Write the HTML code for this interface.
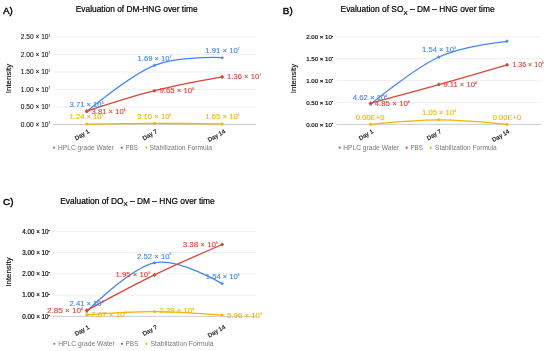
<!DOCTYPE html>
<html lang="en">
<head>
<meta charset="utf-8">
<title>Evaluation of DM-HNG over time</title>
<style>
html,body{margin:0;padding:0;background:#fff;}
body{width:550px;height:351px;overflow:hidden;}
svg{display:block;font-family:'Liberation Sans', Arial, sans-serif;}
</style>
</head>
<body>
<svg width="550" height="351" viewBox="0 0 550 351">
<rect width="550" height="351" fill="#fff"/>
<g id="chart-a">
<text x="3" y="13.6" font-size="9.9" fill="#000" stroke="#000" stroke-width="0.4">A)</text>
<text x="136.7" y="12.2" font-size="8.4" fill="#000" stroke="#000" stroke-width="0.2" text-anchor="middle">Evaluation of DM-HNG over time</text>
<line x1="53" x2="256" y1="124.50" y2="124.50" stroke="#b8b8b8" stroke-width="0.7"/>
<text x="50" y="126.88" font-size="6.6" fill="#111" stroke="#111" stroke-width="0.08" text-anchor="end">0.00 × 10<tspan dy="-2.77" font-size="2.64">7</tspan></text>
<line x1="53" x2="256" y1="107.00" y2="107.00" stroke="#e4e4e4" stroke-width="0.6"/>
<text x="50" y="109.38" font-size="6.6" fill="#111" stroke="#111" stroke-width="0.08" text-anchor="end">0.50 × 10<tspan dy="-2.77" font-size="2.64">7</tspan></text>
<line x1="53" x2="256" y1="89.50" y2="89.50" stroke="#e4e4e4" stroke-width="0.6"/>
<text x="50" y="91.88" font-size="6.6" fill="#111" stroke="#111" stroke-width="0.08" text-anchor="end">1.00 × 10<tspan dy="-2.77" font-size="2.64">7</tspan></text>
<line x1="53" x2="256" y1="72.00" y2="72.00" stroke="#e4e4e4" stroke-width="0.6"/>
<text x="50" y="74.38" font-size="6.6" fill="#111" stroke="#111" stroke-width="0.08" text-anchor="end">1.50 × 10<tspan dy="-2.77" font-size="2.64">7</tspan></text>
<line x1="53" x2="256" y1="54.50" y2="54.50" stroke="#e4e4e4" stroke-width="0.6"/>
<text x="50" y="56.88" font-size="6.6" fill="#111" stroke="#111" stroke-width="0.08" text-anchor="end">2.00 × 10<tspan dy="-2.77" font-size="2.64">7</tspan></text>
<line x1="53" x2="256" y1="37.00" y2="37.00" stroke="#e4e4e4" stroke-width="0.6"/>
<text x="50" y="39.38" font-size="6.6" fill="#111" stroke="#111" stroke-width="0.08" text-anchor="end">2.50 × 10<tspan dy="-2.77" font-size="2.64">7</tspan></text>
<text transform="translate(10.5,78.5) rotate(-90)" font-size="7.9" fill="#000" stroke="#000" stroke-width="0.1" text-anchor="middle">Intensity</text>
<path d="M86.83,111.52 C86.83,111.52 130.33,74.97 154.50,65.35 C178.67,55.73 222.17,57.65 222.17,57.65" fill="none" stroke="#4285f4" stroke-width="1.3" stroke-linecap="round"/>
<polygon points="86.83,109.31 87.38,110.77 88.93,110.84 87.71,111.80 88.13,113.29 86.83,112.44 85.54,113.29 85.95,111.80 84.74,110.84 86.29,110.77" fill="#4285f4"/>
<polygon points="154.50,63.15 155.04,64.60 156.59,64.67 155.38,65.64 155.79,67.13 154.50,66.27 153.21,67.13 153.62,65.64 152.41,64.67 153.96,64.60" fill="#4285f4"/>
<polygon points="222.17,55.45 222.71,56.90 224.26,56.97 223.05,57.94 223.46,59.43 222.17,58.57 220.87,59.43 221.29,57.94 220.07,56.97 221.62,56.90" fill="#4285f4"/>
<path d="M86.83,111.16 C86.83,111.16 130.33,96.84 154.50,90.72 C178.67,84.61 222.17,76.90 222.17,76.90" fill="none" stroke="#db4437" stroke-width="1.3" stroke-linecap="round"/>
<polygon points="86.83,109.11 88.88,111.16 86.83,113.21 84.78,111.16" fill="#db4437"/>
<polygon points="154.50,88.67 156.55,90.72 154.50,92.77 152.45,90.72" fill="#db4437"/>
<polygon points="222.17,74.85 224.22,76.90 222.17,78.95 220.12,76.90" fill="#db4437"/>
<path d="M86.83,124.07 C86.83,124.07 130.33,123.44 154.50,123.42 C178.67,123.39 222.17,123.92 222.17,123.92" fill="none" stroke="#f4b400" stroke-width="1.3" stroke-linecap="round"/>
<rect x="85.53" y="122.77" width="2.60" height="2.60" fill="#f4b400"/>
<rect x="153.20" y="122.12" width="2.60" height="2.60" fill="#f4b400"/>
<rect x="220.87" y="122.62" width="2.60" height="2.60" fill="#f4b400"/>
<text transform="translate(89.8,132.6) rotate(-30)" font-size="6.0" fill="#222" stroke="#222" stroke-width="0.22" text-anchor="end">Day 1</text>
<text transform="translate(157.6,132.6) rotate(-30)" font-size="6.0" fill="#222" stroke="#222" stroke-width="0.22" text-anchor="end">Day 7</text>
<text transform="translate(225.8,132.6) rotate(-30)" font-size="6.0" fill="#222" stroke="#222" stroke-width="0.22" text-anchor="end">Day 14</text>
<text x="69.5" y="106.88" font-size="8.0" fill="#4285f4" stroke="#4285f4" stroke-width="0.12" textLength="33.9" lengthAdjust="spacingAndGlyphs">3.71 × 10<tspan dy="-3.1" font-size="3.3">6</tspan></text>
<text x="91.6" y="113.68" font-size="8.0" fill="#db4437" stroke="#db4437" stroke-width="0.12" textLength="33.8" lengthAdjust="spacingAndGlyphs">3.81 × 10<tspan dy="-3.1" font-size="3.3">6</tspan></text>
<text x="69.5" y="119.38" font-size="8.0" fill="#f4b400" stroke="#f4b400" stroke-width="0.12" textLength="33.9" lengthAdjust="spacingAndGlyphs">1.24 × 10<tspan dy="-3.1" font-size="3.3">5</tspan></text>
<text x="137.5" y="60.78" font-size="8.0" fill="#4285f4" stroke="#4285f4" stroke-width="0.12" textLength="33.9" lengthAdjust="spacingAndGlyphs">1.69 × 10<tspan dy="-3.1" font-size="3.3">7</tspan></text>
<text x="159.4" y="92.78" font-size="8.0" fill="#db4437" stroke="#db4437" stroke-width="0.12" textLength="34.6" lengthAdjust="spacingAndGlyphs">9.65 × 10<tspan dy="-3.1" font-size="3.3">6</tspan></text>
<text x="137" y="118.68" font-size="8.0" fill="#f4b400" stroke="#f4b400" stroke-width="0.12" textLength="34.4" lengthAdjust="spacingAndGlyphs">3.10 × 10<tspan dy="-3.1" font-size="3.3">5</tspan></text>
<text x="205.3" y="53.18" font-size="8.0" fill="#4285f4" stroke="#4285f4" stroke-width="0.12" textLength="34.3" lengthAdjust="spacingAndGlyphs">1.91 × 10<tspan dy="-3.1" font-size="3.3">7</tspan></text>
<text x="227.1" y="78.78" font-size="8.0" fill="#db4437" stroke="#db4437" stroke-width="0.12" textLength="33.9" lengthAdjust="spacingAndGlyphs">1.36 × 10<tspan dy="-3.1" font-size="3.3">7</tspan></text>
<text x="205.3" y="119.18" font-size="8.0" fill="#f4b400" stroke="#f4b400" stroke-width="0.12" textLength="34.3" lengthAdjust="spacingAndGlyphs">1.65 × 10<tspan dy="-3.1" font-size="3.3">5</tspan></text>
<circle cx="54" cy="147.7" r="1.1" fill="#4285f4"/>
<text x="58" y="150.08" font-size="6.6" fill="#777" textLength="56" lengthAdjust="spacingAndGlyphs">HPLC grade Water</text>
<circle cx="121.7" cy="147.7" r="1.1" fill="#db4437"/>
<text x="125.4" y="150.08" font-size="6.6" fill="#777" textLength="12.4" lengthAdjust="spacingAndGlyphs">PBS</text>
<circle cx="146.3" cy="147.7" r="1.1" fill="#f4b400"/>
<text x="149.5" y="150.08" font-size="6.6" fill="#777" textLength="62.5" lengthAdjust="spacingAndGlyphs">Stabilization Formula</text>
</g>
<g id="chart-b">
<text x="282.8" y="13.9" font-size="9.9" fill="#000" stroke="#000" stroke-width="0.4">B)</text>
<text x="417.6" y="12.2" font-size="8.4" fill="#000" stroke="#000" stroke-width="0.2" text-anchor="middle">Evaluation of SO<tspan dy="2.6" font-size="6.2">X</tspan><tspan dy="-2.6"> – DM – HNG over time</tspan></text>
<line x1="336.5" x2="541.2" y1="124.40" y2="124.40" stroke="#b8b8b8" stroke-width="0.7"/>
<text x="333.2" y="126.60" font-size="6.1" fill="#111" stroke="#111" stroke-width="0.2" text-anchor="end">0.00 × 10<tspan dy="-2.56" font-size="2.44">5</tspan></text>
<line x1="336.5" x2="541.2" y1="102.53" y2="102.53" stroke="#e4e4e4" stroke-width="0.6"/>
<text x="333.2" y="104.72" font-size="6.1" fill="#111" stroke="#111" stroke-width="0.2" text-anchor="end">0.50 × 10<tspan dy="-2.56" font-size="2.44">5</tspan></text>
<line x1="336.5" x2="541.2" y1="80.65" y2="80.65" stroke="#e4e4e4" stroke-width="0.6"/>
<text x="333.2" y="82.85" font-size="6.1" fill="#111" stroke="#111" stroke-width="0.2" text-anchor="end">1.00 × 10<tspan dy="-2.56" font-size="2.44">5</tspan></text>
<line x1="336.5" x2="541.2" y1="58.78" y2="58.78" stroke="#e4e4e4" stroke-width="0.6"/>
<text x="333.2" y="60.97" font-size="6.1" fill="#111" stroke="#111" stroke-width="0.2" text-anchor="end">1.50 × 10<tspan dy="-2.56" font-size="2.44">5</tspan></text>
<line x1="336.5" x2="541.2" y1="36.90" y2="36.90" stroke="#e4e4e4" stroke-width="0.6"/>
<text x="333.2" y="39.10" font-size="6.1" fill="#111" stroke="#111" stroke-width="0.2" text-anchor="end">2.00 × 10<tspan dy="-2.56" font-size="2.44">5</tspan></text>
<text transform="translate(296.3,78.5) rotate(-90)" font-size="7.9" fill="#000" stroke="#000" stroke-width="0.1" text-anchor="middle">Intensity</text>
<path d="M370.62,104.19 C370.62,104.19 414.48,68.26 438.85,57.03 C463.22,45.79 507.08,41.28 507.08,41.28" fill="none" stroke="#4285f4" stroke-width="1.3" stroke-linecap="round"/>
<polygon points="370.62,101.99 371.16,103.44 372.71,103.51 371.50,104.47 371.91,105.97 370.62,105.11 369.32,105.97 369.74,104.47 368.52,103.51 370.07,103.44" fill="#4285f4"/>
<polygon points="438.85,54.83 439.39,56.28 440.94,56.35 439.73,57.31 440.14,58.80 438.85,57.95 437.56,58.80 437.97,57.31 436.76,56.35 438.31,56.28" fill="#4285f4"/>
<polygon points="507.08,39.08 507.63,40.53 509.18,40.60 507.96,41.56 508.38,43.05 507.08,42.20 505.79,43.05 506.20,41.56 504.99,40.60 506.54,40.53" fill="#4285f4"/>
<path d="M370.62,103.18 C370.62,103.18 414.48,91.38 438.85,84.54 C463.22,77.71 507.08,64.90 507.08,64.90" fill="none" stroke="#db4437" stroke-width="1.3" stroke-linecap="round"/>
<polygon points="370.62,101.13 372.67,103.18 370.62,105.23 368.57,103.18" fill="#db4437"/>
<polygon points="438.85,82.49 440.90,84.54 438.85,86.59 436.80,84.54" fill="#db4437"/>
<polygon points="507.08,62.85 509.13,64.90 507.08,66.95 505.03,64.90" fill="#db4437"/>
<path d="M370.62,124.40 C370.62,124.40 414.48,119.81 438.85,119.81 C463.22,119.81 507.08,124.40 507.08,124.40" fill="none" stroke="#f4b400" stroke-width="1.3" stroke-linecap="round"/>
<rect x="369.32" y="123.10" width="2.60" height="2.60" fill="#f4b400"/>
<rect x="437.55" y="118.51" width="2.60" height="2.60" fill="#f4b400"/>
<rect x="505.78" y="123.10" width="2.60" height="2.60" fill="#f4b400"/>
<text transform="translate(373.8,132.6) rotate(-30)" font-size="6.0" fill="#222" stroke="#222" stroke-width="0.22" text-anchor="end">Day 1</text>
<text transform="translate(441.8,132.6) rotate(-30)" font-size="6.0" fill="#222" stroke="#222" stroke-width="0.22" text-anchor="end">Day 7</text>
<text transform="translate(510,132.6) rotate(-30)" font-size="6.0" fill="#222" stroke="#222" stroke-width="0.22" text-anchor="end">Day 14</text>
<text x="352.8" y="99.88" font-size="8.0" fill="#4285f4" stroke="#4285f4" stroke-width="0.12" textLength="34.3" lengthAdjust="spacingAndGlyphs">4.62 × 10<tspan dy="-3.1" font-size="3.3">4</tspan></text>
<text x="374.6" y="106.08" font-size="8.0" fill="#db4437" stroke="#db4437" stroke-width="0.12" textLength="35.1" lengthAdjust="spacingAndGlyphs">4.85 × 10<tspan dy="-3.1" font-size="3.3">4</tspan></text>
<text x="355.8" y="120.38" font-size="8.0" fill="#f4b400" stroke="#f4b400" stroke-width="0.12" textLength="28.8" lengthAdjust="spacingAndGlyphs">0.00E+0</text>
<text x="422" y="52.48" font-size="8.0" fill="#4285f4" stroke="#4285f4" stroke-width="0.12" textLength="33.9" lengthAdjust="spacingAndGlyphs">1.54 × 10<tspan dy="-3.1" font-size="3.3">5</tspan></text>
<text x="443.4" y="87.08" font-size="8.0" fill="#db4437" stroke="#db4437" stroke-width="0.12" textLength="33.3" lengthAdjust="spacingAndGlyphs">9.11 × 10<tspan dy="-3.1" font-size="3.3">4</tspan></text>
<text x="422" y="115.38" font-size="8.0" fill="#f4b400" stroke="#f4b400" stroke-width="0.12" textLength="33.9" lengthAdjust="spacingAndGlyphs">1.05 × 10<tspan dy="-3.1" font-size="3.3">4</tspan></text>
<text x="512.4" y="67.48" font-size="8.0" fill="#db4437" stroke="#db4437" stroke-width="0.12" textLength="31.3" lengthAdjust="spacingAndGlyphs">1.36 × 10<tspan dy="-3.1" font-size="3.3">5</tspan></text>
<text x="492.8" y="120.38" font-size="8.0" fill="#f4b400" stroke="#f4b400" stroke-width="0.12" textLength="28.3" lengthAdjust="spacingAndGlyphs">0.00E+0</text>
<circle cx="339.7" cy="147.7" r="1.1" fill="#4285f4"/>
<text x="343.2" y="150.08" font-size="6.6" fill="#777" textLength="56" lengthAdjust="spacingAndGlyphs">HPLC grade Water</text>
<circle cx="406.7" cy="147.7" r="1.1" fill="#db4437"/>
<text x="410.4" y="150.08" font-size="6.6" fill="#777" textLength="12.4" lengthAdjust="spacingAndGlyphs">PBS</text>
<circle cx="430.8" cy="147.7" r="1.1" fill="#f4b400"/>
<text x="435" y="150.08" font-size="6.6" fill="#777" textLength="61.8" lengthAdjust="spacingAndGlyphs">Stabilization Formula</text>
</g>
<g id="chart-c">
<text x="3" y="204.7" font-size="9.9" fill="#000" stroke="#000" stroke-width="0.4">C)</text>
<text x="137.5" y="203.5" font-size="8.4" fill="#000" stroke="#000" stroke-width="0.2" text-anchor="middle">Evaluation of DO<tspan dy="2.6" font-size="6.2">X</tspan><tspan dy="-2.6"> – DM – HNG over time</tspan></text>
<line x1="53" x2="256" y1="316.40" y2="316.40" stroke="#b8b8b8" stroke-width="0.7"/>
<text x="50" y="318.67" font-size="6.3" fill="#111" stroke="#111" stroke-width="0.2" text-anchor="end">0.00 × 10<tspan dy="-2.65" font-size="2.52">5</tspan></text>
<line x1="53" x2="256" y1="295.12" y2="295.12" stroke="#e4e4e4" stroke-width="0.6"/>
<text x="50" y="297.39" font-size="6.3" fill="#111" stroke="#111" stroke-width="0.2" text-anchor="end">1.00 × 10<tspan dy="-2.65" font-size="2.52">5</tspan></text>
<line x1="53" x2="256" y1="273.85" y2="273.85" stroke="#e4e4e4" stroke-width="0.6"/>
<text x="50" y="276.12" font-size="6.3" fill="#111" stroke="#111" stroke-width="0.2" text-anchor="end">2.00 × 10<tspan dy="-2.65" font-size="2.52">5</tspan></text>
<line x1="53" x2="256" y1="252.57" y2="252.57" stroke="#e4e4e4" stroke-width="0.6"/>
<text x="50" y="254.84" font-size="6.3" fill="#111" stroke="#111" stroke-width="0.2" text-anchor="end">3.00 × 10<tspan dy="-2.65" font-size="2.52">5</tspan></text>
<line x1="53" x2="256" y1="231.30" y2="231.30" stroke="#e4e4e4" stroke-width="0.6"/>
<text x="50" y="233.57" font-size="6.3" fill="#111" stroke="#111" stroke-width="0.2" text-anchor="end">4.00 × 10<tspan dy="-2.65" font-size="2.52">5</tspan></text>
<text transform="translate(11.3,272) rotate(-90)" font-size="7.9" fill="#000" stroke="#000" stroke-width="0.1" text-anchor="middle">Intensity</text>
<path d="M86.83,311.27 C86.83,311.27 130.33,267.72 154.50,262.79 C178.67,257.85 222.17,283.64 222.17,283.64" fill="none" stroke="#4285f4" stroke-width="1.3" stroke-linecap="round"/>
<polygon points="86.83,309.07 87.38,310.53 88.93,310.59 87.71,311.56 88.13,313.05 86.83,312.20 85.54,313.05 85.95,311.56 84.74,310.59 86.29,310.53" fill="#4285f4"/>
<polygon points="154.50,260.59 155.04,262.04 156.59,262.11 155.38,263.07 155.79,264.57 154.50,263.71 153.21,264.57 153.62,263.07 152.41,262.11 153.96,262.04" fill="#4285f4"/>
<polygon points="222.17,281.44 222.71,282.89 224.26,282.96 223.05,283.92 223.46,285.42 222.17,284.56 220.87,285.42 221.29,283.92 220.07,282.96 221.62,282.89" fill="#4285f4"/>
<path d="M86.83,310.34 C86.83,310.34 130.33,286.67 154.50,274.91 C178.67,263.16 222.17,244.49 222.17,244.49" fill="none" stroke="#db4437" stroke-width="1.3" stroke-linecap="round"/>
<polygon points="86.83,308.29 88.88,310.34 86.83,312.39 84.78,310.34" fill="#db4437"/>
<polygon points="154.50,272.86 156.55,274.91 154.50,276.96 152.45,274.91" fill="#db4437"/>
<polygon points="222.17,242.44 224.22,244.49 222.17,246.54 220.12,244.49" fill="#db4437"/>
<path d="M86.83,314.77 C86.83,314.77 130.33,311.46 154.50,311.53 C178.67,311.59 222.17,315.13 222.17,315.13" fill="none" stroke="#f4b400" stroke-width="1.3" stroke-linecap="round"/>
<rect x="85.53" y="313.47" width="2.60" height="2.60" fill="#f4b400"/>
<rect x="153.20" y="310.23" width="2.60" height="2.60" fill="#f4b400"/>
<rect x="220.87" y="313.83" width="2.60" height="2.60" fill="#f4b400"/>
<text transform="translate(89.8,328.2) rotate(-30)" font-size="6.0" fill="#222" stroke="#222" stroke-width="0.22" text-anchor="end">Day 1</text>
<text transform="translate(157.6,328.2) rotate(-30)" font-size="6.0" fill="#222" stroke="#222" stroke-width="0.22" text-anchor="end">Day 7</text>
<text transform="translate(225.8,328.2) rotate(-30)" font-size="6.0" fill="#222" stroke="#222" stroke-width="0.22" text-anchor="end">Day 14</text>
<text x="69.5" y="305.88" font-size="8.0" fill="#4285f4" stroke="#4285f4" stroke-width="0.12" textLength="33.9" lengthAdjust="spacingAndGlyphs">2.41 × 10<tspan dy="-3.1" font-size="3.3">4</tspan></text>
<text x="46.9" y="312.68" font-size="8.0" fill="#db4437" stroke="#db4437" stroke-width="0.12" textLength="35.9" lengthAdjust="spacingAndGlyphs">2.85 × 10<tspan dy="-3.1" font-size="3.3">4</tspan></text>
<text x="90.8" y="317.18" font-size="8.0" fill="#f4b400" stroke="#f4b400" stroke-width="0.12" textLength="35.9" lengthAdjust="spacingAndGlyphs">7.67 × 10<tspan dy="-3.1" font-size="3.3">3</tspan></text>
<text x="137" y="258.58" font-size="8.0" fill="#4285f4" stroke="#4285f4" stroke-width="0.12" textLength="34.4" lengthAdjust="spacingAndGlyphs">2.52 × 10<tspan dy="-3.1" font-size="3.3">5</tspan></text>
<text x="115.4" y="277.08" font-size="8.0" fill="#db4437" stroke="#db4437" stroke-width="0.12" textLength="34.6" lengthAdjust="spacingAndGlyphs">1.95 × 10<tspan dy="-3.1" font-size="3.3">5</tspan></text>
<text x="159.4" y="313.48" font-size="8.0" fill="#f4b400" stroke="#f4b400" stroke-width="0.12" textLength="34.6" lengthAdjust="spacingAndGlyphs">2.29 × 10<tspan dy="-3.1" font-size="3.3">4</tspan></text>
<text x="182.7" y="246.98" font-size="8.0" fill="#db4437" stroke="#db4437" stroke-width="0.12" textLength="35.1" lengthAdjust="spacingAndGlyphs">3.38 × 10<tspan dy="-3.1" font-size="3.3">5</tspan></text>
<text x="205.8" y="278.78" font-size="8.0" fill="#4285f4" stroke="#4285f4" stroke-width="0.12" textLength="33.8" lengthAdjust="spacingAndGlyphs">1.54 × 10<tspan dy="-3.1" font-size="3.3">5</tspan></text>
<text x="227.1" y="317.68" font-size="8.0" fill="#f4b400" stroke="#f4b400" stroke-width="0.12" textLength="34.6" lengthAdjust="spacingAndGlyphs">5.96 × 10<tspan dy="-3.1" font-size="3.3">3</tspan></text>
<circle cx="54.3" cy="343.8" r="1.1" fill="#4285f4"/>
<text x="58.2" y="346.21" font-size="6.7" fill="#777" textLength="56.6" lengthAdjust="spacingAndGlyphs">HPLC grade Water</text>
<circle cx="121.9" cy="343.8" r="1.1" fill="#db4437"/>
<text x="125.6" y="346.21" font-size="6.7" fill="#777" textLength="12.6" lengthAdjust="spacingAndGlyphs">PBS</text>
<circle cx="146.4" cy="343.8" r="1.1" fill="#f4b400"/>
<text x="150.6" y="346.21" font-size="6.7" fill="#777" textLength="63" lengthAdjust="spacingAndGlyphs">Stabilization Formula</text>
</g>
</svg>
</body>
</html>
